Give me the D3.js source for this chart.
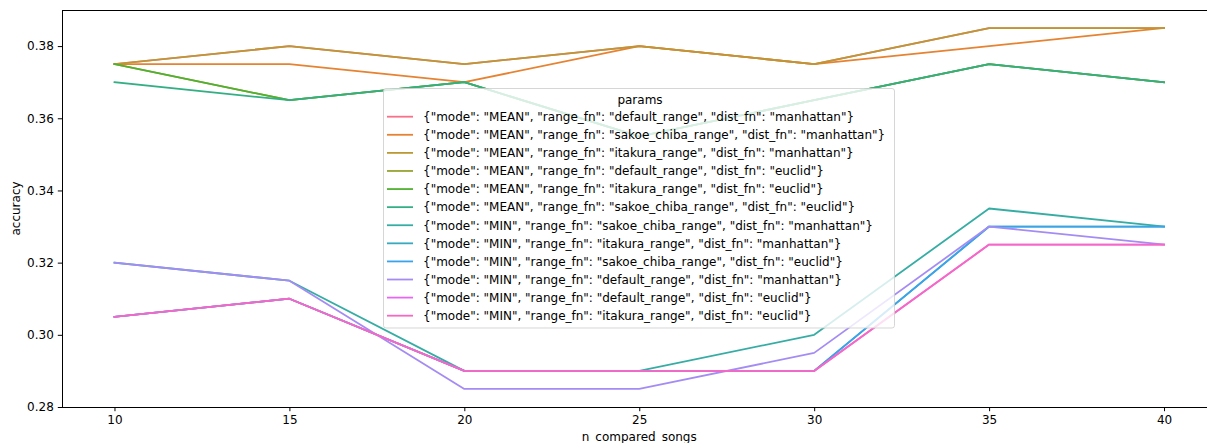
<!DOCTYPE html>
<html><head><meta charset="utf-8">
<script src="https://cdn.jsdelivr.net/npm/d3@7"></script>
<style>
html,body{margin:0;padding:0;background:#fff;}
svg{display:block;font-family:"DejaVu Sans",sans-serif;}
</style></head>
<body><svg id="chart" width="1207" height="443"></svg>
<script>
// ---- data ----
const xValues = [10, 15, 20, 25, 30, 35, 40];
const seriesLabels = [
  '{"mode": "MEAN", "range_fn": "default_range", "dist_fn": "manhattan"}',
  '{"mode": "MEAN", "range_fn": "sakoe_chiba_range", "dist_fn": "manhattan"}',
  '{"mode": "MEAN", "range_fn": "itakura_range", "dist_fn": "manhattan"}',
  '{"mode": "MEAN", "range_fn": "default_range", "dist_fn": "euclid"}',
  '{"mode": "MEAN", "range_fn": "itakura_range", "dist_fn": "euclid"}',
  '{"mode": "MEAN", "range_fn": "sakoe_chiba_range", "dist_fn": "euclid"}',
  '{"mode": "MIN", "range_fn": "sakoe_chiba_range", "dist_fn": "manhattan"}',
  '{"mode": "MIN", "range_fn": "itakura_range", "dist_fn": "manhattan"}',
  '{"mode": "MIN", "range_fn": "sakoe_chiba_range", "dist_fn": "euclid"}',
  '{"mode": "MIN", "range_fn": "default_range", "dist_fn": "manhattan"}',
  '{"mode": "MIN", "range_fn": "default_range", "dist_fn": "euclid"}',
  '{"mode": "MIN", "range_fn": "itakura_range", "dist_fn": "euclid"}'
];
const meanDefaultManhattan = [0.375, 0.380, 0.375, 0.380, 0.375, 0.385, 0.385];
const meanSakoeManhattan   = [0.375, 0.375, 0.370, 0.380, 0.375, 0.380, 0.385];
const meanItakuraManhattan = [0.375, 0.380, 0.375, 0.380, 0.375, 0.385, 0.385];
const meanDefaultEuclid    = [0.375, 0.365, 0.370, 0.355, 0.365, 0.375, 0.370];
const meanItakuraEuclid    = [0.375, 0.365, 0.370, 0.355, 0.365, 0.375, 0.370];
const meanSakoeEuclid      = [0.370, 0.365, 0.370, 0.355, 0.365, 0.375, 0.370];
const minSakoeManhattan    = [0.320, 0.315, 0.290, 0.290, 0.300, 0.335, 0.330];
const minItakuraManhattan  = [0.305, 0.310, 0.290, 0.290, 0.290, 0.330, 0.330];
const minSakoeEuclid       = [0.305, 0.310, 0.290, 0.290, 0.290, 0.330, 0.330];
const minDefaultManhattan  = [0.320, 0.315, 0.285, 0.285, 0.295, 0.330, 0.325];
const minDefaultEuclid     = [0.305, 0.310, 0.290, 0.290, 0.290, 0.325, 0.325];
const minItakuraEuclid     = [0.305, 0.310, 0.290, 0.290, 0.290, 0.325, 0.325];
const seriesValues = [meanDefaultManhattan, meanSakoeManhattan, meanItakuraManhattan,
  meanDefaultEuclid, meanItakuraEuclid, meanSakoeEuclid, minSakoeManhattan,
  minItakuraManhattan, minSakoeEuclid, minDefaultManhattan, minDefaultEuclid, minItakuraEuclid];
const xTicks = [10, 15, 20, 25, 30, 35, 40];
const yTicks = [0.28, 0.30, 0.32, 0.34, 0.36, 0.38];
const xTitle = "n_compared_songs";
const yTitle = "accuracy";
const legendTitle = "params";

// ---- husl palette (seaborn style) ----
const M = [[3.240969941904521,-1.537383177570093,-0.498610760293],
           [-0.96924363628087,1.87596750150772,0.041555057407175],
           [0.055630079696993,-0.20397695888897,1.056971514242878]];
const refU=0.19783000664283, refV=0.46831999493879, kappa=903.2962962, eps=0.0088564516;
function bounds(L){const out=[];const s1=Math.pow(L+16,3)/1560896;const s2=s1>eps?s1:L/kappa;
  for(let c=0;c<3;c++){const [m1,m2,m3]=M[c];for(const t of [0,1]){
    const top1=(284517*m1-94839*m3)*s2;const top2=(838422*m3+769860*m2+731718*m1)*L*s2-769860*t*L;
    const bot=(632260*m3-126452*m2)*s2+126452*t;out.push([top1/bot,top2/bot]);}}return out;}
function maxChroma(L,H){const hr=H/360*Math.PI*2;let mn=Infinity;
  for(const [m,b] of bounds(L)){const len=b/(Math.sin(hr)-m*Math.cos(hr));if(len>=0)mn=Math.min(mn,len);}return mn;}
function huslToRgb(H,S,L){const C=maxChroma(L,H)/100*S;const hr=H/180*Math.PI;
  const U=Math.cos(hr)*C,V=Math.sin(hr)*C;const vu=U/(13*L)+refU,vv=V/(13*L)+refV;
  const Y=L<=8?L/kappa:Math.pow((L+16)/116,3);const X=-(9*Y*vu)/((vu-4)*vv-vu*vv);
  const Z=(9*Y-15*vv*Y-vv*X)/(3*vv);
  return M.map(r=>{let c=r[0]*X+r[1]*Y+r[2]*Z;c=c<=0.0031308?12.92*c:1.055*Math.pow(c,1/2.4)-0.055;
    return Math.round(Math.max(0,Math.min(1,c))*255);});}
const colors = seriesLabels.map((d,i)=>{let h=(i/12+0.01)%1*359;const [r,g,b]=huslToRgb(h,0.9*99,0.65*99);return `rgb(${r},${g},${b})`;});

// ---- layout ----
const svg = d3.select("#chart");
const pL=62, pR=1216.5, pT=10, pB=407;
const x = d3.scaleLinear().domain([8.5, 41.5]).range([pL, pR]);
const y = d3.scaleLinear().domain([0.28, 0.39]).range([pB, pT]);
const fs = 12;

const line = d3.line().x((d,i)=>x(xValues[i])).y(d=>y(d));
const gLines = svg.append("g");
seriesValues.forEach((vals,i)=>{
  gLines.append("path").datum(vals).attr("d",line).attr("fill","none")
    .attr("stroke",colors[i]).attr("stroke-width",1.8).attr("stroke-linecap","square").attr("stroke-linejoin","round");
});

// axes
const xAxis = d3.axisBottom(x).tickValues(xTicks).tickSize(4.2).tickPadding(4).tickFormat(d3.format("d"));
const yAxis = d3.axisLeft(y).tickValues(yTicks).tickSize(4.2).tickPadding(4).tickFormat(d3.format(".2f"));
const gx = svg.append("g").attr("transform",`translate(0,${pB})`).call(xAxis);
const gy = svg.append("g").attr("transform",`translate(${pL},0)`).call(yAxis);
[gx,gy].forEach(g=>{g.select(".domain").remove();
  g.selectAll("text").attr("font-size",fs).attr("font-family","DejaVu Sans").attr("fill","#000");
  g.selectAll("line").attr("stroke","#000").attr("stroke-width",1);});
// frame
svg.append("rect").attr("x",pL).attr("y",pT).attr("width",pR-pL).attr("height",pB-pT)
  .attr("fill","none").attr("stroke","#000").attr("stroke-width",1).attr("shape-rendering","crispEdges");

svg.append("text").attr("x",(pL+pR)/2).attr("y",441).attr("text-anchor","middle")
  .attr("font-size",fs).text(xTitle);
svg.append("text").attr("transform",`translate(20,${(pT+pB)/2}) rotate(-90)`).attr("text-anchor","middle")
  .attr("font-size",fs).text(yTitle);

// legend
const lg = svg.append("g");
lg.append("rect").attr("x",383.5).attr("y",88.5).attr("width",511).attr("height",239.5).attr("rx",2.5)
  .attr("fill","rgba(255,255,255,0.8)").attr("stroke","rgba(204,204,204,0.8)").attr("stroke-width",1);
lg.append("text").attr("x",640).attr("y",103.5).attr("text-anchor","middle").attr("font-size",fs).text(legendTitle);
seriesLabels.forEach((lab,i)=>{
  const cy = 116.7 + 18.09*i;
  lg.append("line").attr("x1",387).attr("x2",413).attr("y1",cy).attr("y2",cy)
    .attr("stroke",colors[i]).attr("stroke-width",1.8);
  lg.append("text").attr("x",423).attr("y",cy+4.3).attr("font-size",fs).text(lab);
});
</script></body></html>
